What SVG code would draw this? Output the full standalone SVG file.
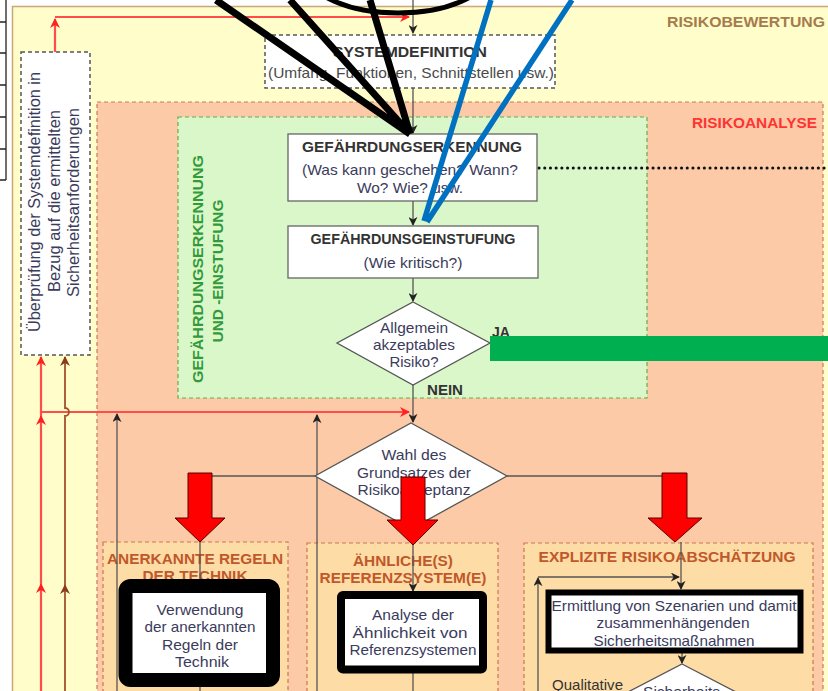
<svg xmlns="http://www.w3.org/2000/svg" width="828" height="691" viewBox="0 0 828 691">
<defs>
<style>
.t{font-family:"Liberation Sans",Arial,sans-serif;font-size:15px;fill:#3b3b5c}
.b{font-weight:bold}
.c{text-anchor:middle}
.con{fill:none;stroke:#555;stroke-width:1.3}
.red{fill:none;stroke:#ff4d4d;stroke-width:2.2}
.brn{fill:none;stroke:#a0522d;stroke-width:1.8}
.box{fill:#fff;stroke:#666;stroke-width:1.3}
.dbox{fill:#fff;stroke:#555;stroke-width:1.5;stroke-dasharray:4 3}
.col{fill:#fedca6;stroke:#c8784f;stroke-width:1.2;stroke-dasharray:4 3}
.ttl{fill:#c0582b}
.thick{fill:#fff;stroke:#000}
.rarr{fill:#ff0000;stroke:#5a0000;stroke-width:1}
</style>
<marker id="ak" viewBox="0 0 10 10" refX="9" refY="5" markerUnits="userSpaceOnUse" markerWidth="9" markerHeight="9" orient="auto"><path d="M0,0 L10,5 L0,10 L3,5 z" fill="#222"/></marker>
<marker id="ar" viewBox="0 0 10 10" refX="9" refY="5" markerUnits="userSpaceOnUse" markerWidth="10" markerHeight="10" orient="auto"><path d="M0,0 L10,5 L0,10 L3,5 z" fill="#ff2020"/></marker>
<marker id="ab" viewBox="0 0 10 10" refX="9" refY="5" markerUnits="userSpaceOnUse" markerWidth="10" markerHeight="10" orient="auto"><path d="M0,0 L10,5 L0,10 L3,5 z" fill="#8b3a1a"/></marker>
</defs>

<rect width="828" height="691" fill="#fff"/>
<path d="M6,0 V180 M0,22 H6 M0,53 H6 M0,85 H6 M0,117 H6 M0,149 H6 M0,180 H6" stroke="#222" stroke-width="1.3" fill="none"/>

<g id="risikobewertung">
<rect x="12.5" y="6.5" width="830" height="700" fill="#fffdc9" stroke="#c9a97a" stroke-width="1.5"/>
<text class="t b" x="667" y="27" style="font-size:15.5px;fill:#a57b4e" textLength="158" lengthAdjust="spacingAndGlyphs">RISIKOBEWERTUNG</text>
</g>

<g id="risikoanalyse">
<rect x="97" y="102" width="726" height="600" fill="#fccaa6" stroke="#c97b5a" stroke-width="1.2" stroke-dasharray="4 3"/>
<text class="t b" x="692" y="128" style="font-size:15px;fill:#ff3333" textLength="125" lengthAdjust="spacingAndGlyphs">RISIKOANALYSE</text>
</g>

<g id="gefaehrdung-bereich">
<rect x="178" y="117" width="469" height="281" fill="#daf7c9" stroke="#5fae4f" stroke-width="1.2" stroke-dasharray="4 3"/>
<text class="t b c" transform="translate(203,269) rotate(-90)" style="font-size:15.5px;fill:#339a3a" textLength="228" lengthAdjust="spacingAndGlyphs">GEFÄHRDUNGSERKENNUNG</text>
<text class="t b c" transform="translate(223,271) rotate(-90)" style="font-size:15.5px;fill:#339a3a" textLength="143" lengthAdjust="spacingAndGlyphs">UND -EINSTUFUNG</text>
</g>

<g id="ueberpruefung">
<rect class="dbox" x="21" y="52" width="69" height="303"/>
<text class="t c" transform="translate(40,202) rotate(-90)" style="font-size:16px" textLength="260" lengthAdjust="spacingAndGlyphs">Überprüfung der Systemdefinition in</text>
<text class="t c" transform="translate(59.5,201) rotate(-90)" style="font-size:16px" textLength="182" lengthAdjust="spacingAndGlyphs">Bezug auf die ermittelten</text>
<text class="t c" transform="translate(79,202.5) rotate(-90)" style="font-size:16px" textLength="189" lengthAdjust="spacingAndGlyphs">Sicherheitsanforderungen</text>
</g>

<g id="col1">
<rect class="col" x="103" y="542" width="185" height="160"/>
<text class="t b c ttl" x="195" y="564" textLength="176" lengthAdjust="spacingAndGlyphs">ANERKANNTE REGELN</text>
<text class="t b c ttl" x="195" y="581" textLength="105" lengthAdjust="spacingAndGlyphs">DER TECHNIK</text>
</g>
<g id="col2">
<rect class="col" x="307" y="543" width="191" height="160"/>
<text class="t b c ttl" x="403" y="566" style="font-size:14.5px" textLength="100" lengthAdjust="spacingAndGlyphs">ÄHNLICHE(S)</text>
<text class="t b c ttl" x="403" y="583" style="font-size:14.5px" textLength="167" lengthAdjust="spacingAndGlyphs">REFERENZSYSTEM(E)</text>
</g>
<g id="col3">
<rect class="col" x="524" y="543" width="289" height="160"/>
<text class="t b c ttl" x="667" y="562" textLength="257" lengthAdjust="spacingAndGlyphs">EXPLIZITE RISIKOABSCHÄTZUNG</text>
</g>

<g id="connectors">
<path class="con" d="M413,0 V33" marker-end="url(#ak)"/>
<path class="con" d="M413,88 V133" marker-end="url(#ak)"/>
<path class="con" d="M413,201 V225" marker-end="url(#ak)"/>
<path class="con" d="M413,278 V301" marker-end="url(#ak)"/>
<path class="con" d="M413,385 V422" marker-end="url(#ak)"/>
<path class="red" d="M55,52 V19" marker-end="url(#ar)"/>
<path class="red" d="M55,17 H409" marker-end="url(#ar)"/>
<path class="red" d="M41,691 V584" marker-end="url(#ar)"/>
<path class="red" d="M41,584 V416" marker-end="url(#ar)"/>
<path class="red" d="M41,416 V357" marker-end="url(#ar)"/>
<path class="red" d="M41,412 H409" marker-end="url(#ar)"/>
<path class="brn" d="M65,691 V585" marker-end="url(#ab)"/>
<path class="brn" d="M65,585 V416 a4,4 0 0 0 0,-8 V357" marker-end="url(#ab)"/>
<path class="con" d="M117,691 V414" marker-end="url(#ak)"/>
<path class="con" d="M317,691 V415" marker-end="url(#ak)"/>
<path class="con" d="M200,476 H315 M507,476 H675"/>
<path class="con" d="M200,542 V580 M200,687 V691"/>
<path class="con" d="M413,545 V591" marker-end="url(#ak)"/>
<path class="con" d="M413,673 V691"/>
<path class="con" d="M681,542 V589" marker-end="url(#ak)"/>
<path class="con" d="M538,691 V578" marker-end="url(#ak)"/>
<path class="con" d="M538,577 H679" marker-end="url(#ak)"/>
<path class="con" d="M682,653 V663" marker-end="url(#ak)"/>
<path d="M539,168 H828" fill="none" stroke="#111" stroke-width="3" stroke-linecap="round" stroke-dasharray="0.1 5.6"/>
</g>

<g id="systemdefinition">
<rect class="dbox" x="265" y="35" width="290" height="53"/>
<text class="t b c" x="410" y="57" style="fill:#333" textLength="154" lengthAdjust="spacingAndGlyphs">SYSTEMDEFINITION</text>
<text class="t c" x="411" y="78" style="fill:#4a4a4a" textLength="286" lengthAdjust="spacingAndGlyphs">(Umfang, Funktionen, Schnittstellen usw.)</text>
</g>

<g id="gefaehrdungserkennung">
<rect class="box" x="288" y="134" width="249" height="67"/>
<text class="t b c" x="412" y="152" style="fill:#333" textLength="220" lengthAdjust="spacingAndGlyphs">GEFÄHRDUNGSERKENNUNG</text>
<text class="t c" x="410" y="175" textLength="216" lengthAdjust="spacingAndGlyphs">(Was kann geschehen? Wann?</text>
<text class="t c" x="410" y="193" textLength="106" lengthAdjust="spacingAndGlyphs">Wo? Wie? usw.</text>
</g>

<g id="gefaehrdungseinstufung">
<rect class="box" x="288" y="226" width="250" height="52"/>
<text class="t b c" x="413" y="244" style="fill:#333" textLength="205" lengthAdjust="spacingAndGlyphs">GEFÄHRDUNSGEINSTUFUNG</text>
<text class="t c" x="413" y="268" textLength="99" lengthAdjust="spacingAndGlyphs">(Wie kritisch?)</text>
</g>

<g id="akzeptabel">
<polygon points="413,302 490,343 413,385 337,343" fill="#fff" stroke="#555" stroke-width="1.3"/>
<text class="t c" x="414" y="333" textLength="68" lengthAdjust="spacingAndGlyphs">Allgemein</text>
<text class="t c" x="414" y="350" textLength="82" lengthAdjust="spacingAndGlyphs">akzeptables</text>
<text class="t c" x="414" y="367" textLength="49" lengthAdjust="spacingAndGlyphs">Risiko?</text>
<text class="t b" x="492" y="337" style="font-size:14px;fill:#333">JA</text>
<text class="t b" x="427" y="395" style="font-size:14px;fill:#333" textLength="36" lengthAdjust="spacingAndGlyphs">NEIN</text>
</g>
<rect id="ja-balken" x="490" y="336" width="338" height="25" fill="#00b050"/>

<g id="grundsatz">
<polygon points="411,423 507,476 411,529 315,476" fill="#fff" stroke="#555" stroke-width="1.3"/>
<text class="t c" x="414" y="460" textLength="65" lengthAdjust="spacingAndGlyphs">Wahl des</text>
<text class="t c" x="414" y="478" textLength="114" lengthAdjust="spacingAndGlyphs">Grundsatzes der</text>
<text class="t c" x="414" y="495" textLength="113" lengthAdjust="spacingAndGlyphs">Risikoakzeptanz</text>
</g>

<g id="pfeile">
<path class="rarr" d="M188,473 H212 V518 H225 L200,542 L175,518 H188 Z"/>
<path class="rarr" d="M401,477 H425 V520 H438 L413,545 L387,520 H401 Z"/>
<path class="rarr" d="M662,473 H687 V518 H702 L675,542 L648,518 H662 Z"/>
</g>

<g id="verwendung">
<rect class="thick" x="125.5" y="586" width="147.5" height="94" rx="5" stroke-width="14"/>
<text class="t c" x="200" y="615" textLength="87" lengthAdjust="spacingAndGlyphs">Verwendung</text>
<text class="t c" x="200" y="632" textLength="111" lengthAdjust="spacingAndGlyphs">der anerkannten</text>
<text class="t c" x="200" y="650" textLength="76" lengthAdjust="spacingAndGlyphs">Regeln der</text>
<text class="t c" x="202" y="667" textLength="54" lengthAdjust="spacingAndGlyphs">Technik</text>
</g>

<g id="analyse">
<rect class="thick" x="341" y="595" width="142" height="74.5" rx="2" stroke-width="8"/>
<text class="t c" x="413" y="620" textLength="82" lengthAdjust="spacingAndGlyphs">Analyse der</text>
<text class="t c" x="410" y="638" textLength="115" lengthAdjust="spacingAndGlyphs">Ähnlichkeit von</text>
<text class="t c" x="413" y="655" textLength="127" lengthAdjust="spacingAndGlyphs">Referenzsystemen</text>
</g>

<g id="ermittlung">
<rect class="thick" x="548.5" y="592.5" width="252" height="58" stroke-width="6"/>
<text class="t c" x="674" y="611" textLength="245" lengthAdjust="spacingAndGlyphs">Ermittlung von Szenarien und damit</text>
<text class="t c" x="673" y="628" textLength="153" lengthAdjust="spacingAndGlyphs">zusammenhängenden</text>
<text class="t c" x="674" y="646" textLength="161" lengthAdjust="spacingAndGlyphs">Sicherheitsmaßnahmen</text>
</g>

<g id="sicherheit">
<polygon points="682,664 790,720 682,776 574,720" fill="#fff" stroke="#555" stroke-width="1.3"/>
<text class="t" x="552" y="690" style="fill:#333" textLength="71" lengthAdjust="spacingAndGlyphs">Qualitative</text>
<text class="t" x="643" y="697" textLength="77" lengthAdjust="spacingAndGlyphs">Sicherheits</text>
</g>

<g id="overlay">
<ellipse cx="398" cy="-27" rx="90" ry="40" fill="none" stroke="#000" stroke-width="5"/>
<path d="M216,0 L410,134 M290,0 L410,134 M370,0 L410,134" fill="none" stroke="#000" stroke-width="7"/>
<path d="M491,0 L424,221 M572,0 L427,222" fill="none" stroke="#0070c0" stroke-width="5.5"/>
</g>
</svg>
